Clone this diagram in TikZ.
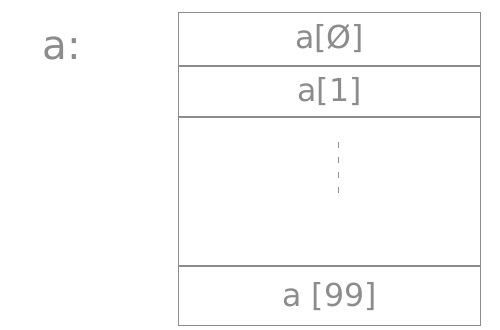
\documentclass[tikz,border=0pt]{standalone}
\usepackage{fontspec}
\setmainfont{DejaVu Sans}
\usetikzlibrary{positioning}
\tikzset{
  cell/.style={draw=gray!90, line width=0.6pt, minimum width=6.04cm, inner sep=0pt,
    font=\fontsize{18}{18}\selectfont, text=gray!90},
}
\begin{document}
\begin{tikzpicture}[x=0.02cm, y=-0.02cm]
    \useasboundingbox (0,0) rectangle (500,329);

    % the array cells, stacked
    \node[cell, minimum height=1.06cm, anchor=north west] (a0) at (178,12) {a[Ø]};
    \node[cell, minimum height=1.00cm, below=0pt of a0] (a1) {a[1]};
    \node[cell, minimum height=2.96cm, below=0pt of a1] (gap) {};
    \node[cell, minimum height=1.18cm, below=0pt of gap] (a99) {a [99]};

    \node[font=\fontsize{23}{23}\selectfont, text=gray!90] (name) at (62,48) {a:};

    \draw[gray!85, line width=0.6pt, dash pattern=on 3.5pt off 5pt]
        ([xshift=0.18cm, yshift=-0.5cm]gap.north) -- ([xshift=0.18cm, yshift=-1.6cm]gap.north);
\end{tikzpicture}
\end{document}
